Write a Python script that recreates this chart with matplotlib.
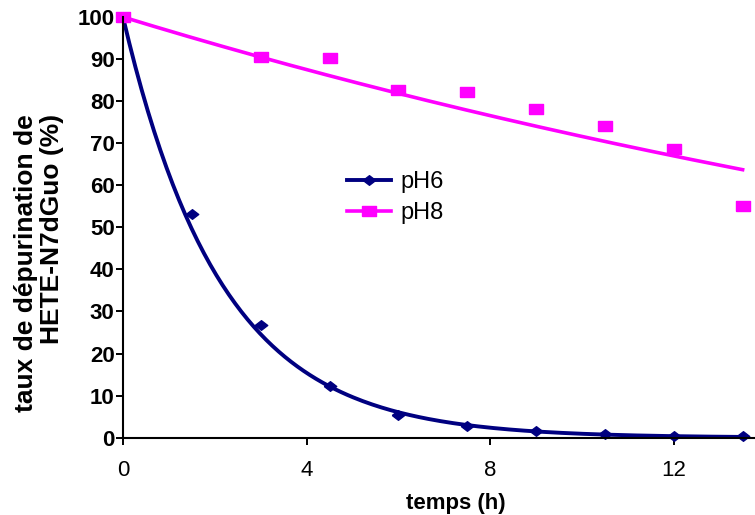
import matplotlib
matplotlib.use('Agg')
import matplotlib.pyplot as plt
import numpy as np

plt.rcParams['font.family'] = ['Liberation Sans', 'DejaVu Sans']

# data
temps_ph6 = [0, 1.5, 3, 4.5, 6, 7.5, 9, 10.5, 12, 13.5]
ph6 = [100, 53.2, 26.7, 12.3, 5.4, 2.86, 1.6, 0.95, 0.4, 0.48]
temps_ph8 = [0, 3, 4.5, 6, 7.5, 9, 10.5, 12, 13.5]
ph8 = [100, 90.6, 90.3, 82.6, 82.2, 78.2, 74.0, 68.6, 55.0]


def expfit(t, y):
    # exponential trend through the first value, points below 1 % left out
    t = np.array(t, dtype=float)
    y = np.array(y, dtype=float)
    m = y > 1
    L = np.log(y[0] / y[m])
    k = np.sum(t[m] * L) / np.sum(t[m] * t[m])
    tt = np.linspace(t[0], t[-1], 200)
    return tt, y[0] * np.exp(-k * tt)


fig = plt.figure(figsize=(7.55, 5.15), dpi=100)
ax = fig.add_axes([123 / 755, 1 - 437.7 / 515, 1 - 123 / 755, (437.7 - 17) / 515])

navy = '#000080'
pink = '#ff00ff'
diamond = [(-1.3, 0), (0, -1), (1.3, 0), (0, 1), (-1.3, 0)]
rect = [(-1.4, -1), (1.4, -1), (1.4, 1), (-1.4, 1), (-1.4, -1)]

tt, yy = expfit(temps_ph6, ph6)
ax.plot(tt, yy, color=navy, lw=2.8)
tt, yy = expfit(temps_ph8, ph8)
ax.plot(tt, yy, color=pink, lw=2.6)

ax.plot(temps_ph6, ph6, ls='none', marker=diamond, color=navy, ms=9, clip_on=False)
ax.plot(temps_ph8, ph8, ls='none', marker=rect, color=pink, ms=10, clip_on=False)

# legend entries
ax.plot([], [], color=navy, lw=2.8, marker=diamond, ms=9, label='pH6')
ax.plot([], [], color=pink, lw=2.6, marker=rect, ms=10, label='pH8')
ax.legend(loc='upper left', bbox_to_anchor=(0.321, 0.684), frameon=False,
          fontsize=17, handlelength=1.85, handletextpad=0.4, labelspacing=0.37)

ax.set_xlim(0, 13.77)
ax.set_ylim(0, 100)
ax.set_xticks([0, 4, 8, 12])
ax.set_yticks(range(0, 101, 10))
ax.spines['top'].set_visible(False)
ax.spines['right'].set_visible(False)
ax.spines['left'].set_linewidth(1.5)
ax.spines['bottom'].set_linewidth(1.5)
ax.tick_params(axis='both', direction='out', length=5, width=1.4, labelsize=16)
ax.tick_params(axis='x', pad=11)
ax.tick_params(axis='y', pad=1)
for lab in ax.get_yticklabels():
    lab.set_fontweight('bold')

ax.set_xlabel('temps (h)', fontsize=16, fontweight='bold')
ax.xaxis.set_label_coords(0.527, -0.131)
ax.set_ylabel('taux de dépurination de\nHETE-N7dGuo (%)', fontsize=19,
              fontweight='bold', linespacing=1.1, multialignment='right')
ax.yaxis.set_label_coords(-0.094, 0.415)

fig.savefig('out.png', dpi=100)
